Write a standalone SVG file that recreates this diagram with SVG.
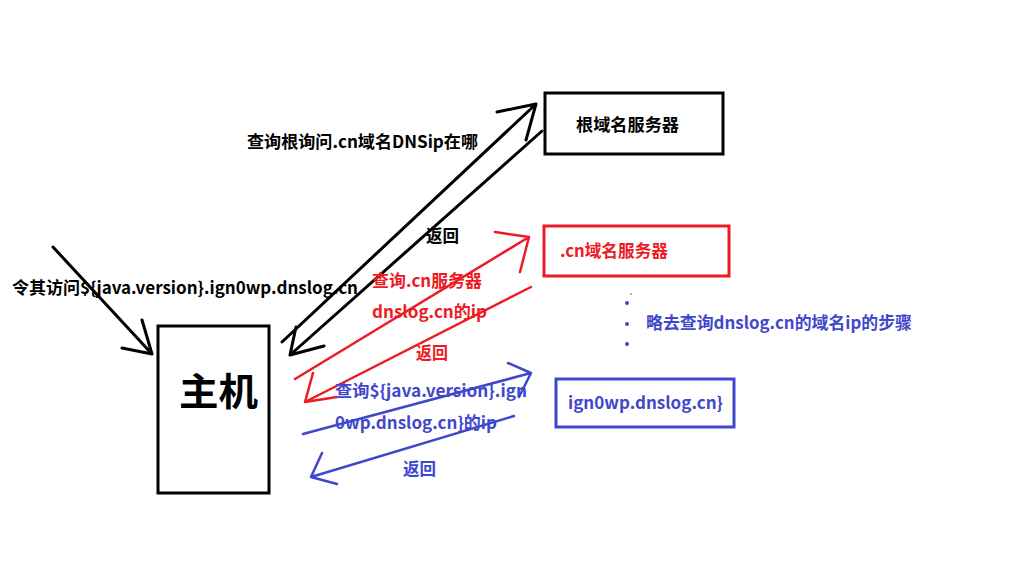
<svg xmlns="http://www.w3.org/2000/svg" width="1028" height="567" viewBox="0 0 1028 567">
<style>
text{font-family:"Noto Sans CJK SC","Liberation Sans",sans-serif;font-weight:bold;font-size:17px}
.k{fill:#000}.r{fill:#ED1C24}.b{fill:#3F48CC}
.lk{stroke:#000;stroke-width:3;fill:none;stroke-linecap:round;stroke-linejoin:round}
.lr{stroke:#ED1C24;stroke-width:2.5;fill:none;stroke-linecap:round;stroke-linejoin:round}
.lb{stroke:#3F48CC;stroke-width:2.5;fill:none;stroke-linecap:round;stroke-linejoin:round}
</style>
<rect width="1028" height="567" fill="#fff"/>
<g id="root-server">
<rect x="545" y="93" width="178" height="61" fill="none" stroke="#000" stroke-width="3"/>
<text class="k" x="576" y="131" textLength="103" lengthAdjust="spacingAndGlyphs">根域名服务器</text>
</g>
<g id="cn-server">
<rect x="544" y="226" width="185" height="50" fill="none" stroke="#ED1C24" stroke-width="3"/>
<text class="r" x="560" y="257" textLength="108" lengthAdjust="spacingAndGlyphs">.cn域名服务器</text>
</g>
<g id="dnslog-server">
<rect x="556" y="379" width="178" height="48" fill="none" stroke="#3F48CC" stroke-width="3"/>
<text class="b" x="568" y="409" textLength="155" lengthAdjust="spacingAndGlyphs">ign0wp.dnslog.cn}</text>
</g>
<g id="host">
<rect x="158" y="326" width="111" height="167" fill="none" stroke="#000" stroke-width="3"/>
<text class="k" x="179" y="405" style="font-size:38px" textLength="79" lengthAdjust="spacingAndGlyphs">主机</text>
</g>
<g id="note">
<circle cx="631" cy="294" r="0.8" fill="#3F48CC"/>
<circle cx="627" cy="303" r="2" fill="#3F48CC"/>
<circle cx="627" cy="324" r="2" fill="#3F48CC"/>
<circle cx="627" cy="344" r="2" fill="#3F48CC"/>
<text class="b" x="646" y="329" textLength="266" lengthAdjust="spacingAndGlyphs">略去查询dnslog.cn的域名ip的步骤</text>
</g>
<g id="connectors">
<path class="lk" d="M53,247 L152,354 M142,320 L152,354 L122,348"/>
<path class="lk" d="M282,342 L536,104 M497,112 L536,104 L526,140"/>
<path class="lk" d="M542,131 L290,355 M296,327 L290,355 L324,346"/>
<path class="lr" d="M295,379 L529,237 M495,232 L529,237 L520,272"/>
<path class="lr" d="M531,287 L305,402 M313,373 L305,402 L337,397"/>
<path class="lb" d="M303,434 L531,373 M508,363 L531,373 L519,397"/>
<path class="lb" d="M514,416 L311,477 M322,453 L311,477 L337,484"/>
</g>
<g id="labels">
<text class="k" x="247" y="148" textLength="231" lengthAdjust="spacingAndGlyphs">查询根询问.cn域名DNSip在哪</text>
<text class="k" x="426" y="242" textLength="33" lengthAdjust="spacingAndGlyphs">返回</text>
<text class="k" x="12" y="294" textLength="346" lengthAdjust="spacingAndGlyphs">令其访问${java.version}.ign0wp.dnslog.cn</text>
<text class="r" x="372" y="287" textLength="110" lengthAdjust="spacingAndGlyphs">查询.cn服务器</text>
<text class="r" x="372" y="318" textLength="115" lengthAdjust="spacingAndGlyphs">dnslog.cn的ip</text>
<text class="r" x="416" y="359" textLength="32" lengthAdjust="spacingAndGlyphs">返回</text>
<text class="b" x="335" y="397" textLength="192" lengthAdjust="spacingAndGlyphs">查询${java.version}.ign</text>
<text class="b" x="335" y="429" textLength="162" lengthAdjust="spacingAndGlyphs">0wp.dnslog.cn}的ip</text>
<text class="b" x="403" y="475" textLength="33" lengthAdjust="spacingAndGlyphs">返回</text>
</g>
</svg>
